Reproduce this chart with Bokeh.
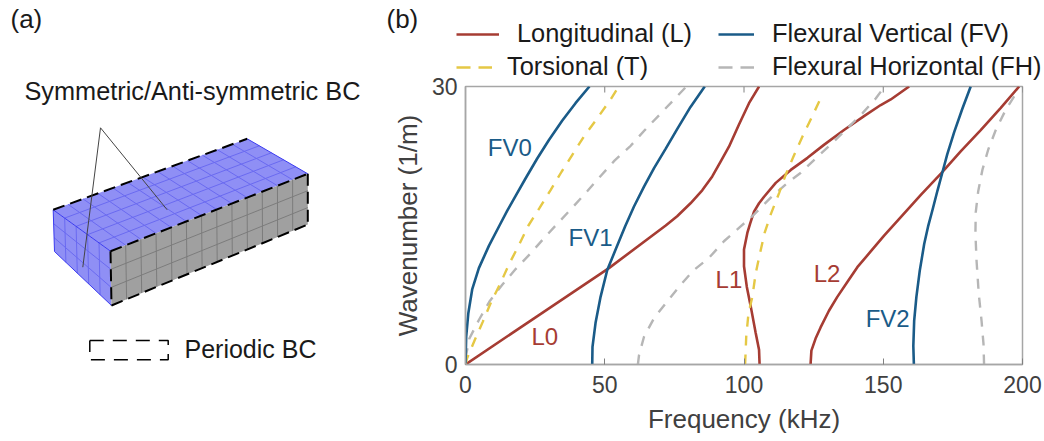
from bokeh.embed import file_html
from bokeh.resources import INLINE
from bokeh.plotting import figure
from bokeh.layouts import row, column
from bokeh.models import Range1d, FixedTicker, Label, Legend, LegendItem

FONT = "Liberation Sans"
RED, BLUE, YELLOW, GRAY = "#A63C33", "#1A5B88", "#E5C845", "#B6B6B6"

# ---------- data (frequency kHz, wavenumber 1/m)
FV0_f = [0, 0.25, 1, 2.4, 4.8, 8.4, 12.2, 15, 18, 21.6, 25.7, 29.9, 34.7, 39.5, 44.5]
FV0_k = [0.1, 3, 5.5, 8.1, 10.4, 12.8, 15, 16.6, 18.2, 20.1, 22.2, 24.2, 26.3, 28.2, 30]
FV1_f = [45.5, 45.6, 46.7, 48.5, 50.9, 53.9, 57.3, 60.5, 64.1, 67.7, 71.9, 76, 80.8, 85.9]
FV1_k = [0, 1.9, 4.5, 7.3, 10.2, 12.4, 14.9, 17.05, 19.2, 21.2, 23.3, 25.4, 27.8, 30]
FV2_f = [161, 160.8, 161.1, 161.9, 163.1, 164.7, 166.1, 167.7, 169.5, 171.3, 173, 175.5, 178.4, 181.4]
FV2_k = [0, 2, 4.7, 7.3, 10.1, 13, 14.9, 16.7, 18.8, 20.8, 22.7, 25.1, 27.6, 30]
L0_f = [0, 25.7, 51.5, 71.9, 76, 80.8, 85, 88.6, 91.6, 94.6, 98.2, 101.8, 105.4]
L0_k = [0, 5.2, 10.4, 15, 16, 17.4, 18.8, 20.3, 21.9, 23.5, 25.9, 28.2, 30]
L1_f = [105.6, 105.4, 104.2, 102.4, 101, 100, 100, 101.2, 102.2, 103.6, 105.4, 107.2, 111.4, 116.8, 122.8, 128.7, 135.9, 143.1, 149.1, 152.7, 159.3]
L1_k = [0, 1.6, 3.4, 6.3, 8.4, 10.6, 12.4, 14.2, 15.2, 16.5, 17.4, 18.1, 19.6, 21, 22.3, 23.7, 25.3, 26.8, 28, 28.6, 30]
L2_f = [123.9, 124.2, 125.7, 127.5, 130.5, 133.5, 137.1, 140.7, 145.5, 150.3, 156.3, 163.5, 170.7, 177.8, 185, 192.2, 198.8]
L2_k = [0, 1.5, 2.8, 4, 5.8, 7.3, 8.9, 10.5, 12.2, 13.9, 15.9, 18.3, 20.6, 23, 25.3, 27.7, 30]
T0_f = [0, 0.6, 3.4, 6.2, 9.3, 12.6, 15.6, 19.2, 22.6, 26.6, 30.5, 34.5, 38.3, 42.5, 46.9, 52.3, 55]
T0_k = [0, 0.7, 2.7, 4.6, 6.8, 8.8, 10.8, 12.9, 15, 16.9, 18.8, 20.8, 22.6, 24.6, 26.4, 28.7, 30]
T1_f = [100.4, 100.8, 101.6, 103, 104.2, 105.6, 107.4, 109.6, 112.6, 115, 118, 121, 124.2, 127.5, 128.5]
T1_k = [0, 3, 5.5, 7.3, 9.85, 11.8, 14.2, 16.2, 18.5, 20.5, 22.6, 24.6, 26.6, 28.7, 29.2]
FH0_f = [0, 1.4, 4.8, 8.6, 13.2, 18, 23.4, 28.1, 33, 38.6, 43.7, 48.7, 53.5, 59.3, 64.4, 69.5, 74.9, 79]
FH0_k = [0.7, 2.8, 4.8, 6.8, 8.6, 10.3, 12, 13.6, 15.2, 17, 18.7, 20.4, 22, 23.6, 25.3, 26.9, 28.6, 29.9]
FH1_f = [61.9, 62.3, 64.1, 67.7, 71.9, 76.7, 82, 87.4, 92.8, 98.8, 103, 109.6, 115.6, 120.4, 126.3, 131.7, 137.1, 142.5, 147.3, 150]
FH1_k = [0, 1, 3, 5, 6.6, 8.4, 10.2, 11.5, 13.3, 14.9, 16, 18, 19.6, 20.7, 22.4, 23.9, 25.5, 27.1, 28.7, 29.8]
FH2_f = [186.2, 186, 185.3, 184.3, 183.5, 183.1, 183.2, 184.1, 185.6, 187.7, 190.4, 194, 198.2]
FH2_k = [0, 2.2, 4.7, 7.6, 11.2, 14.1, 16.4, 18.7, 21, 23.2, 25.3, 27.5, 29.5]

x_ticks = [0, 50, 100, 150, 200]
y_ticks = [0, 30]
curve_names = ["FV0", "FV1", "FV2", "L0", "L1", "L2"]
curve_name_f = [8.0, 37.0, 143.7, 23.7, 89.8, 125]
curve_name_k = [23.4, 13.7, 5.0, 3.0, 9.2, 9.8]
legend_names = ["Longitudinal (L)", "Flexural Vertical (FV)", "Torsional (T)", "Flexural Horizontal (FH)"]

# ---------- panel (a): schematic, coordinates in page pixels
pa = figure(width=385, height=441, x_range=Range1d(0, 385), y_range=Range1d(441, 0),
            output_backend="svg", toolbar_location=None, min_border=0)
pa.frame_align = False
pa.axis.visible = False
pa.grid.visible = False
pa.outline_line_color = None

A, B, C, D = (52.7, 209.3), (246.7, 138.3), (307.3, 173.3), (110, 250.7)
A2, D2, C2 = (54, 251), (111, 305), (307.3, 224)


def lerp(p, q, t):
    return (p[0] + (q[0] - p[0]) * t, p[1] + (q[1] - p[1]) * t)


def face(c1, c2, c3, c4, nu, nv, fill, grid):
    pa.patch([c1[0], c2[0], c3[0], c4[0]], [c1[1], c2[1], c3[1], c4[1]],
             fill_color=fill, line_color=None)
    for i in range(1, nu):
        t = i / nu
        a, b = lerp(c1, c2, t), lerp(c4, c3, t)
        pa.line([a[0], b[0]], [a[1], b[1]], line_color=grid, line_width=1)
    for j in range(1, nv):
        t = j / nv
        a, b = lerp(c1, c4, t), lerp(c2, c3, t)
        pa.line([a[0], b[0]], [a[1], b[1]], line_color=grid, line_width=1)


face(A, B, C, D, 13, 5, "#8F8FF5", "#6A6AF0")
face(A, D, D2, A2, 5, 3, "#8F8FF5", "#6A6AF0")
face(D, C, C2, D2, 13, 3, "#A0A0A0", "#7C7C7C")
for p1, q in [(A, D), (B, C), (A, A2), (A2, D2)]:
    pa.line([p1[0], q[0]], [p1[1], q[1]], line_color="#3A3AF0", line_width=1)
for p1, q in [(A, B), (D, C), (D2, C2), (C, C2), (D, D2)]:
    pa.line([p1[0], q[0]], [p1[1], q[1]], line_color="black", line_width=2, line_dash="12 6")
apex = (100, 127.3)
for q in [(82.3, 266.7), (166.7, 209.3)]:
    pa.line([apex[0], q[0]], [apex[1], q[1]], line_color="#444444", line_width=1)
pa.line([89.3, 167.7, 167.7, 89.3, 89.3], [340, 340, 359.3, 359.3, 340],
        line_color="black", line_width=1.5, line_dash="14 9")
for txt, x, y, s in [("(a)", 10, 18, "26px"), ("Symmetric/Anti-symmetric BC", 24, 90, "25.3px"),
                     ("Periodic BC", 184, 348, "25px")]:
    pa.add_layout(Label(x=x, y=y, text=txt, text_font=FONT, text_font_size=s,
                        text_color="#1a1a1a", text_baseline="alphabetic"))

# ---------- legend strip above panel (b), coordinates in page pixels
pl = figure(width=659, height=82, x_range=Range1d(385, 1044), y_range=Range1d(82, 0),
            output_backend="svg", toolbar_location=None, min_border=0)
pl.frame_align = False
pl.axis.visible = False
pl.grid.visible = False
pl.outline_line_color = None
pl.add_layout(Label(x=386, y=18, text="(b)", text_font=FONT, text_font_size="26px",
                    text_color="#1a1a1a", text_baseline="alphabetic"))
solid = dict(line_width=2.6)
dash = dict(line_width=2.4, line_dash="10 9")
leg_dash = dict(line_width=2.6, line_dash="14 8")
# keys of the legend: their own lines lie off the strip, only the legend shows them
off = [0, 1]
leg_r = [pl.line(off, off, line_color=RED, **solid), pl.line(off, off, line_color=BLUE, **solid),
         pl.line(off, off, line_color=YELLOW, **leg_dash), pl.line(off, off, line_color=GRAY, **leg_dash)]
spec = [(71, 34, 43, 18), (333, 34, 36, 18), (71, 1, 36, 15), (333, 1, 36, 18)]
for name, r, (lx, ly, gw, so) in zip(legend_names, leg_r, spec):
    pl.add_layout(Legend(items=[LegendItem(label=name, renderers=[r])], location=(lx, ly),
                         padding=0, margin=0, spacing=0, glyph_width=gw, glyph_height=20,
                         label_standoff=so, label_text_font=FONT, label_text_font_size="25.4px",
                         label_text_color="#1a1a1a", border_line_color=None, background_fill_alpha=0))

# ---------- panel (b)
p = figure(width=659, height=369, x_range=Range1d(0, 200), y_range=Range1d(0, 30),
           output_backend="svg", toolbar_location=None,
           min_border_left=80, min_border_right=22, min_border_top=14, min_border_bottom=77,
           x_axis_label="Frequency (kHz)", y_axis_label="Wavenumber (1/m)")
p.frame_align = False
p.margin = (-10, 0, 0, 0)
p.border_fill_alpha = 0
p.background_fill_alpha = 0
p.grid.visible = False
p.outline_line_color = "#A6A6A6"
p.outline_line_width = 1.5

for f, k in [(L0_f, L0_k), (L1_f, L1_k), (L2_f, L2_k)]:
    p.line(f, k, line_color=RED, **solid)
for f, k in [(FH0_f, FH0_k), (FH1_f, FH1_k), (FH2_f, FH2_k)]:
    p.line(f, k, line_color=GRAY, **dash)
for f, k in [(T0_f, T0_k), (T1_f, T1_k)]:
    p.line(f, k, line_color=YELLOW, **dash)
for f, k in [(FV0_f, FV0_k), (FV1_f, FV1_k), (FV2_f, FV2_k)]:
    p.line(f, k, line_color=BLUE, **solid)

for ax in (p.xaxis[0], p.yaxis[0]):
    ax.axis_line_color = "#A6A6A6"
    ax.axis_line_width = 1.5
    ax.major_tick_line_color = "#808080"
    ax.minor_tick_line_color = None
    ax.major_tick_out = 0
    ax.major_label_text_font = FONT
    ax.major_label_text_font_size = "23px"
    ax.major_label_text_color = "#404040"
    ax.axis_label_text_font = FONT
    ax.axis_label_text_font_size = "26px"
    ax.axis_label_text_font_style = "normal"
    ax.axis_label_text_color = "#404040"
p.xaxis[0].ticker = FixedTicker(ticks=x_ticks)
p.xaxis[0].major_tick_in = 6
p.xaxis[0].major_label_standoff = 11
p.xaxis[0].axis_label_standoff = 8
p.yaxis[0].ticker = FixedTicker(ticks=y_ticks)
p.yaxis[0].major_tick_in = 0
p.yaxis[0].major_label_standoff = 8
p.yaxis[0].axis_label_standoff = 6

# inward ticks along the top of the box
p.segment(x_ticks, [30] * len(x_ticks), x_ticks, [29.35] * len(x_ticks),
          line_color="#808080", line_width=1)

for txt, f, k in zip(curve_names, curve_name_f, curve_name_k):
    p.add_layout(Label(x=f, y=k, text=txt, text_font=FONT, text_font_size="24px",
                       text_color=BLUE if txt.startswith("F") else RED, text_baseline="alphabetic"))

layout = row(pa, column(pl, p, spacing=0), spacing=0)
open("out.html", "w").write(file_html(layout, INLINE))
